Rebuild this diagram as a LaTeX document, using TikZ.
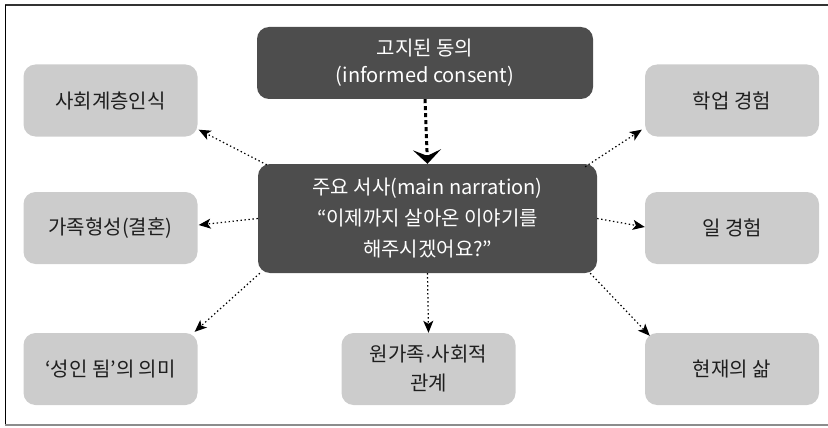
\documentclass[tikz,border=0pt]{standalone}
\usepackage{fontspec}
\setmainfont{Noto Sans CJK KR}
\newfontfamily\dotfont{Liberation Sans}
\usetikzlibrary{arrows.meta}
\definecolor{darkbox}{HTML}{4D4D4D}
\definecolor{lightbox}{HTML}{CCCCCC}
\definecolor{txtdark}{HTML}{1E1E1E}
\begin{document}
\begin{tikzpicture}[x=1pt,y=-1pt,
  darknode/.style={fill=darkbox, draw=none, rounded corners=12pt, text=white, align=center,
    minimum width=#1, inner sep=0pt},
  lightnode/.style={fill=lightbox, draw=none, rounded corners=12pt, text=txtdark, align=center,
    minimum width=174pt, minimum height=72pt, font=\fontsize{20}{29}\selectfont, inner sep=0pt},
  smallarrow/.style={line width=1.2pt, dash pattern=on 1.4pt off 2.6pt,
    -{Stealth[length=12pt,width=10pt,inset=3pt]}},
  bigarrow/.style={line width=3pt, dash pattern=on 4pt off 3pt,
    -{Stealth[length=14pt,width=28pt,inset=6pt]}}
]
\useasboundingbox (0,0) rectangle (828,428);
% frame
\draw[line width=2pt, color=black!80] (5,5) -- (828,5);
\draw[line width=1pt, color=black] (5,5) -- (5,425);
\draw[line width=1.3pt, color=black!45] (5,425) -- (828,425);

% dark nodes
\node[darknode=336pt, minimum height=72pt, font=\fontsize{20}{27}\selectfont] (top) at (425,63) {고지된 동의\\(informed consent)};
\node[darknode=339pt, minimum height=109pt, font=\fontsize{20}{31}\selectfont] (main) at (427.5,218.5) {주요 서사(main narration)\\“이제까지 살아온 이야기를\\해주시겠어요?”};

% light nodes
\node[lightnode] (s1) at (110.5,100.5) {사회계층인식};
\node[lightnode] (s2) at (110.5,228) {가족형성(결혼)};
\node[lightnode] (s3) at (110.5,369) {‘성인 됨’의 의미};
\node[lightnode] (c3) at (428.5,369) {원가족{\dotfont ·}사회적\\관계};
\node[lightnode] (r1) at (732,100.5) {학업 경험};
\node[lightnode] (r2) at (732,228) {일 경험};
\node[lightnode] (r3) at (732,369) {현재의 삶};

% connectors
\draw[bigarrow] (top.south) -- (main.north);
\draw[smallarrow] ([xshift=9pt,yshift=-1pt]main.north west) -- ([xshift=1pt,yshift=7pt]s1.south east);
\draw[smallarrow] (main.west) -- ([xshift=1pt,yshift=3pt]s2.east);
\draw[smallarrow] ([xshift=2pt]main.south west) -- ([xshift=-3pt,yshift=1pt]s3.north east);
\draw[smallarrow] (main.south) -- (c3.north);
\draw[smallarrow] ([xshift=-7pt]main.south east) -- ([xshift=5pt,yshift=-3pt]r3.north west);
\draw[smallarrow] (main.east) -- ([yshift=1pt]r2.west);
\draw[smallarrow] ([xshift=-12pt,yshift=-3pt]main.north east) -- ([xshift=-3pt,yshift=7pt]r1.south west);
\end{tikzpicture}
\end{document}
